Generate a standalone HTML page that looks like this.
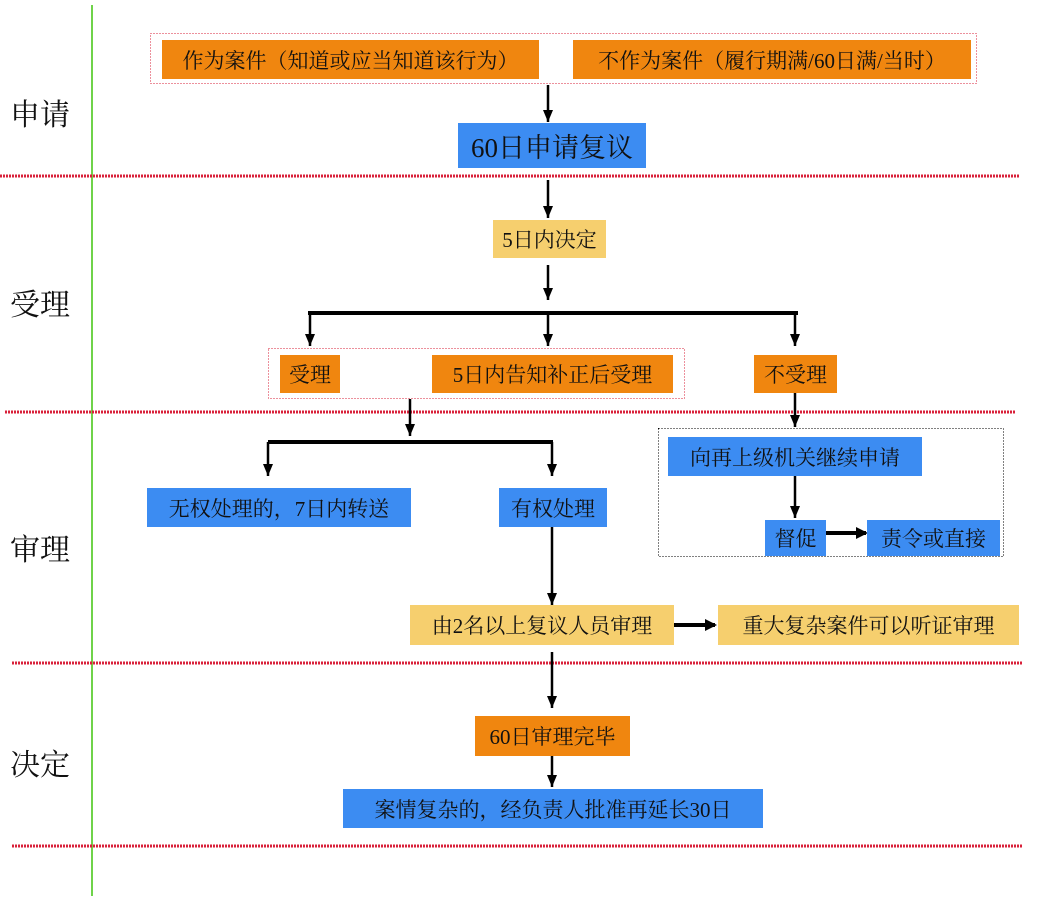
<!DOCTYPE html>
<html><head><meta charset="utf-8"><style>
body{margin:0;width:1041px;height:902px;background:#fff;position:relative;overflow:hidden;font-family:"Liberation Serif","Noto Serif CJK SC",serif;}
.b{position:absolute;display:flex;align-items:center;justify-content:center;font-size:21px;color:#111;white-space:nowrap;box-sizing:border-box}
.o{background:#F0860F}.u{background:#3C8CF2}.y{background:#F6CF6E}
.lab{position:absolute;left:10px;font-size:30px;color:#111}
</style></head><body>
<svg width="1041" height="902" style="position:absolute;left:0;top:0">
<line x1="92" y1="5" x2="92" y2="896" stroke="#6fd34a" stroke-width="2"/>
<g stroke="#d9203a" stroke-width="3" stroke-dasharray="2 1">
<line x1="0" y1="176" x2="1020" y2="176"/><line x1="5" y1="412" x2="1015" y2="412"/>
<line x1="12" y1="663" x2="1023" y2="663"/><line x1="12" y1="846" x2="1023" y2="846"/></g>
<rect x="150.5" y="33.5" width="826" height="50" fill="none" stroke="#d9203a" stroke-dasharray="1 2"/>
<rect x="268.5" y="348.5" width="416" height="50" fill="none" stroke="#d9203a" stroke-dasharray="1 2"/>
<rect x="658.5" y="428.5" width="345" height="128" fill="none" stroke="#000" stroke-dasharray="1 2"/>
<g stroke="#000" stroke-width="2.5" fill="none">
<line x1="548" y1="85" x2="548" y2="122"/><line x1="548" y1="180" x2="548" y2="218"/>
<line x1="548" y1="265" x2="548" y2="300"/>
<line x1="308" y1="313" x2="798" y2="313" stroke-width="4"/>
<line x1="310" y1="313" x2="310" y2="346"/><line x1="548" y1="313" x2="548" y2="346"/><line x1="795" y1="313" x2="795" y2="346"/>
<line x1="410" y1="399" x2="410" y2="436"/><line x1="795" y1="393" x2="795" y2="427"/>
<line x1="268" y1="442" x2="553" y2="442" stroke-width="4"/>
<line x1="268" y1="442" x2="268" y2="476"/><line x1="552" y1="442" x2="552" y2="476"/>
<line x1="795" y1="476" x2="795" y2="518"/>
<line x1="826" y1="533" x2="866" y2="533" stroke-width="4"/>
<line x1="552" y1="527" x2="552" y2="605"/>
<line x1="674" y1="625" x2="715" y2="625" stroke-width="4"/>
<line x1="552" y1="652" x2="552" y2="708"/><line x1="552" y1="752" x2="552" y2="787"/>
</g>
<g fill="#000">
<path d="M543,110 L553,110 L548,122z"/><path d="M543,206 L553,206 L548,218z"/><path d="M543,288 L553,288 L548,300z"/>
<path d="M305,334 L315,334 L310,346z"/><path d="M543,334 L553,334 L548,346z"/><path d="M790,334 L800,334 L795,346z"/>
<path d="M405,424 L415,424 L410,436z"/><path d="M790,415 L800,415 L795,427z"/>
<path d="M263,464 L273,464 L268,476z"/><path d="M547,464 L557,464 L552,476z"/>
<path d="M790,506 L800,506 L795,518z"/><path d="M856,527 L868,533 L856,539z"/>
<path d="M547,593 L557,593 L552,605z"/><path d="M705,619 L717,625 L705,631z"/>
<path d="M547,696 L557,696 L552,708z"/><path d="M547,775 L557,775 L552,787z"/>
</g>
</svg>
<div class="lab" style="top:90px">申请</div>
<div class="lab" style="top:280px">受理</div>
<div class="lab" style="top:525px">审理</div>
<div class="lab" style="top:740px">决定</div>
<div class="b o" style="left:162px;top:40px;width:377px;height:39px">作为案件（知道或应当知道该行为）</div>
<div class="b o" style="left:573px;top:40px;width:398px;height:39px">不作为案件（履行期满/60日满/当时）</div>
<div class="b u" style="left:458px;top:123px;width:188px;height:45px;font-size:27px">60日申请复议</div>
<div class="b y" style="left:493px;top:220px;width:113px;height:38px">5日内决定</div>
<div class="b o" style="left:280px;top:355px;width:60px;height:38px">受理</div>
<div class="b o" style="left:432px;top:355px;width:241px;height:38px">5日内告知补正后受理</div>
<div class="b o" style="left:754px;top:355px;width:83px;height:38px">不受理</div>
<div class="b u" style="left:147px;top:488px;width:264px;height:39px">无权处理的，7日内转送</div>
<div class="b u" style="left:499px;top:488px;width:108px;height:39px">有权处理</div>
<div class="b u" style="left:668px;top:437px;width:254px;height:39px">向再上级机关继续申请</div>
<div class="b u" style="left:765px;top:520px;width:61px;height:36px">督促</div>
<div class="b u" style="left:867px;top:520px;width:133px;height:36px">责令或直接</div>
<div class="b y" style="left:410px;top:605px;width:264px;height:40px">由2名以上复议人员审理</div>
<div class="b y" style="left:718px;top:605px;width:301px;height:40px">重大复杂案件可以听证审理</div>
<div class="b o" style="left:475px;top:716px;width:155px;height:40px">60日审理完毕</div>
<div class="b u" style="left:343px;top:789px;width:420px;height:39px">案情复杂的，经负责人批准再延长30日</div>
</body></html>
